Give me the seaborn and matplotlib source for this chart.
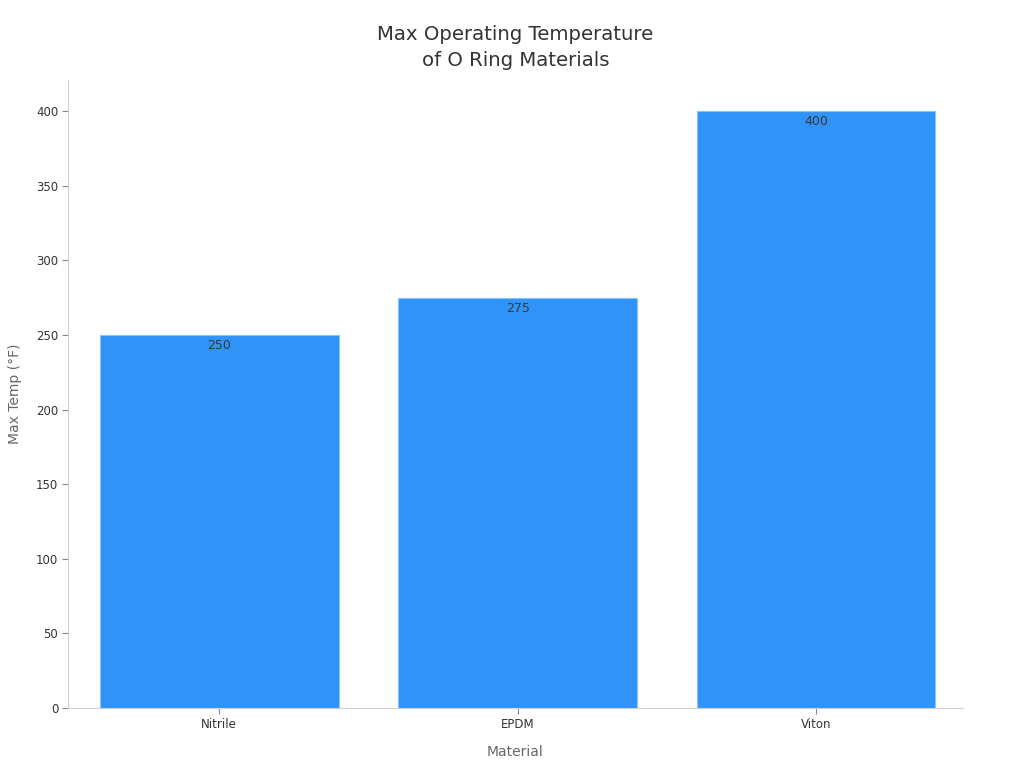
import matplotlib
matplotlib.use("Agg")
import matplotlib.pyplot as plt
import seaborn as sns
import pandas as pd

materials = ["Nitrile", "EPDM", "Viton"]
max_temps = [250, 275, 400]
yticks = [0, 50, 100, 150, 200, 250, 300, 350, 400]

sns.set_theme(style="white")
plt.rcParams['font.family'] = ['DejaVu Sans']

df = pd.DataFrame({"Material": materials, "Max Temp (°F)": max_temps})

fig = plt.figure(figsize=(10.24, 7.68), dpi=100)
ax = fig.add_axes([0.0664, 0.078, 0.874, 0.818])
sns.barplot(data=df, x="Material", y="Max Temp (°F)", color="#2F93F8", saturation=1,
            width=0.8, edgecolor="#8CC4FA", linewidth=0.8, ax=ax)

for i, v in enumerate(max_temps):
    ax.annotate(str(v), (i, v), xytext=(0, -3), textcoords="offset points",
                ha="center", va="top", fontsize=9, color="#3a3a3a")

ax.set_xlim(-0.507, 2.493)
ax.set_ylim(0, 421)
ax.set_yticks(yticks)
ax.set_title("Max Operating Temperature\nof O Ring Materials", fontsize=14.2, color="#333333",
             pad=10, linespacing=1.45)
ax.set_xlabel("Material", fontsize=10, color="#666666", labelpad=10)
ax.set_ylabel("Max Temp (°F)", fontsize=10, color="#666666", labelpad=10)
ax.tick_params(axis="both", labelsize=8.5, colors="#333333", length=4, width=0.8, color="#888888",
               left=True, bottom=True, pad=3)
for s in ["top", "right"]:
    ax.spines[s].set_visible(False)
for s in ["left", "bottom"]:
    ax.spines[s].set_color("#d0d0d0")
    ax.spines[s].set_linewidth(0.8)

fig.savefig("out.png", dpi=100)
